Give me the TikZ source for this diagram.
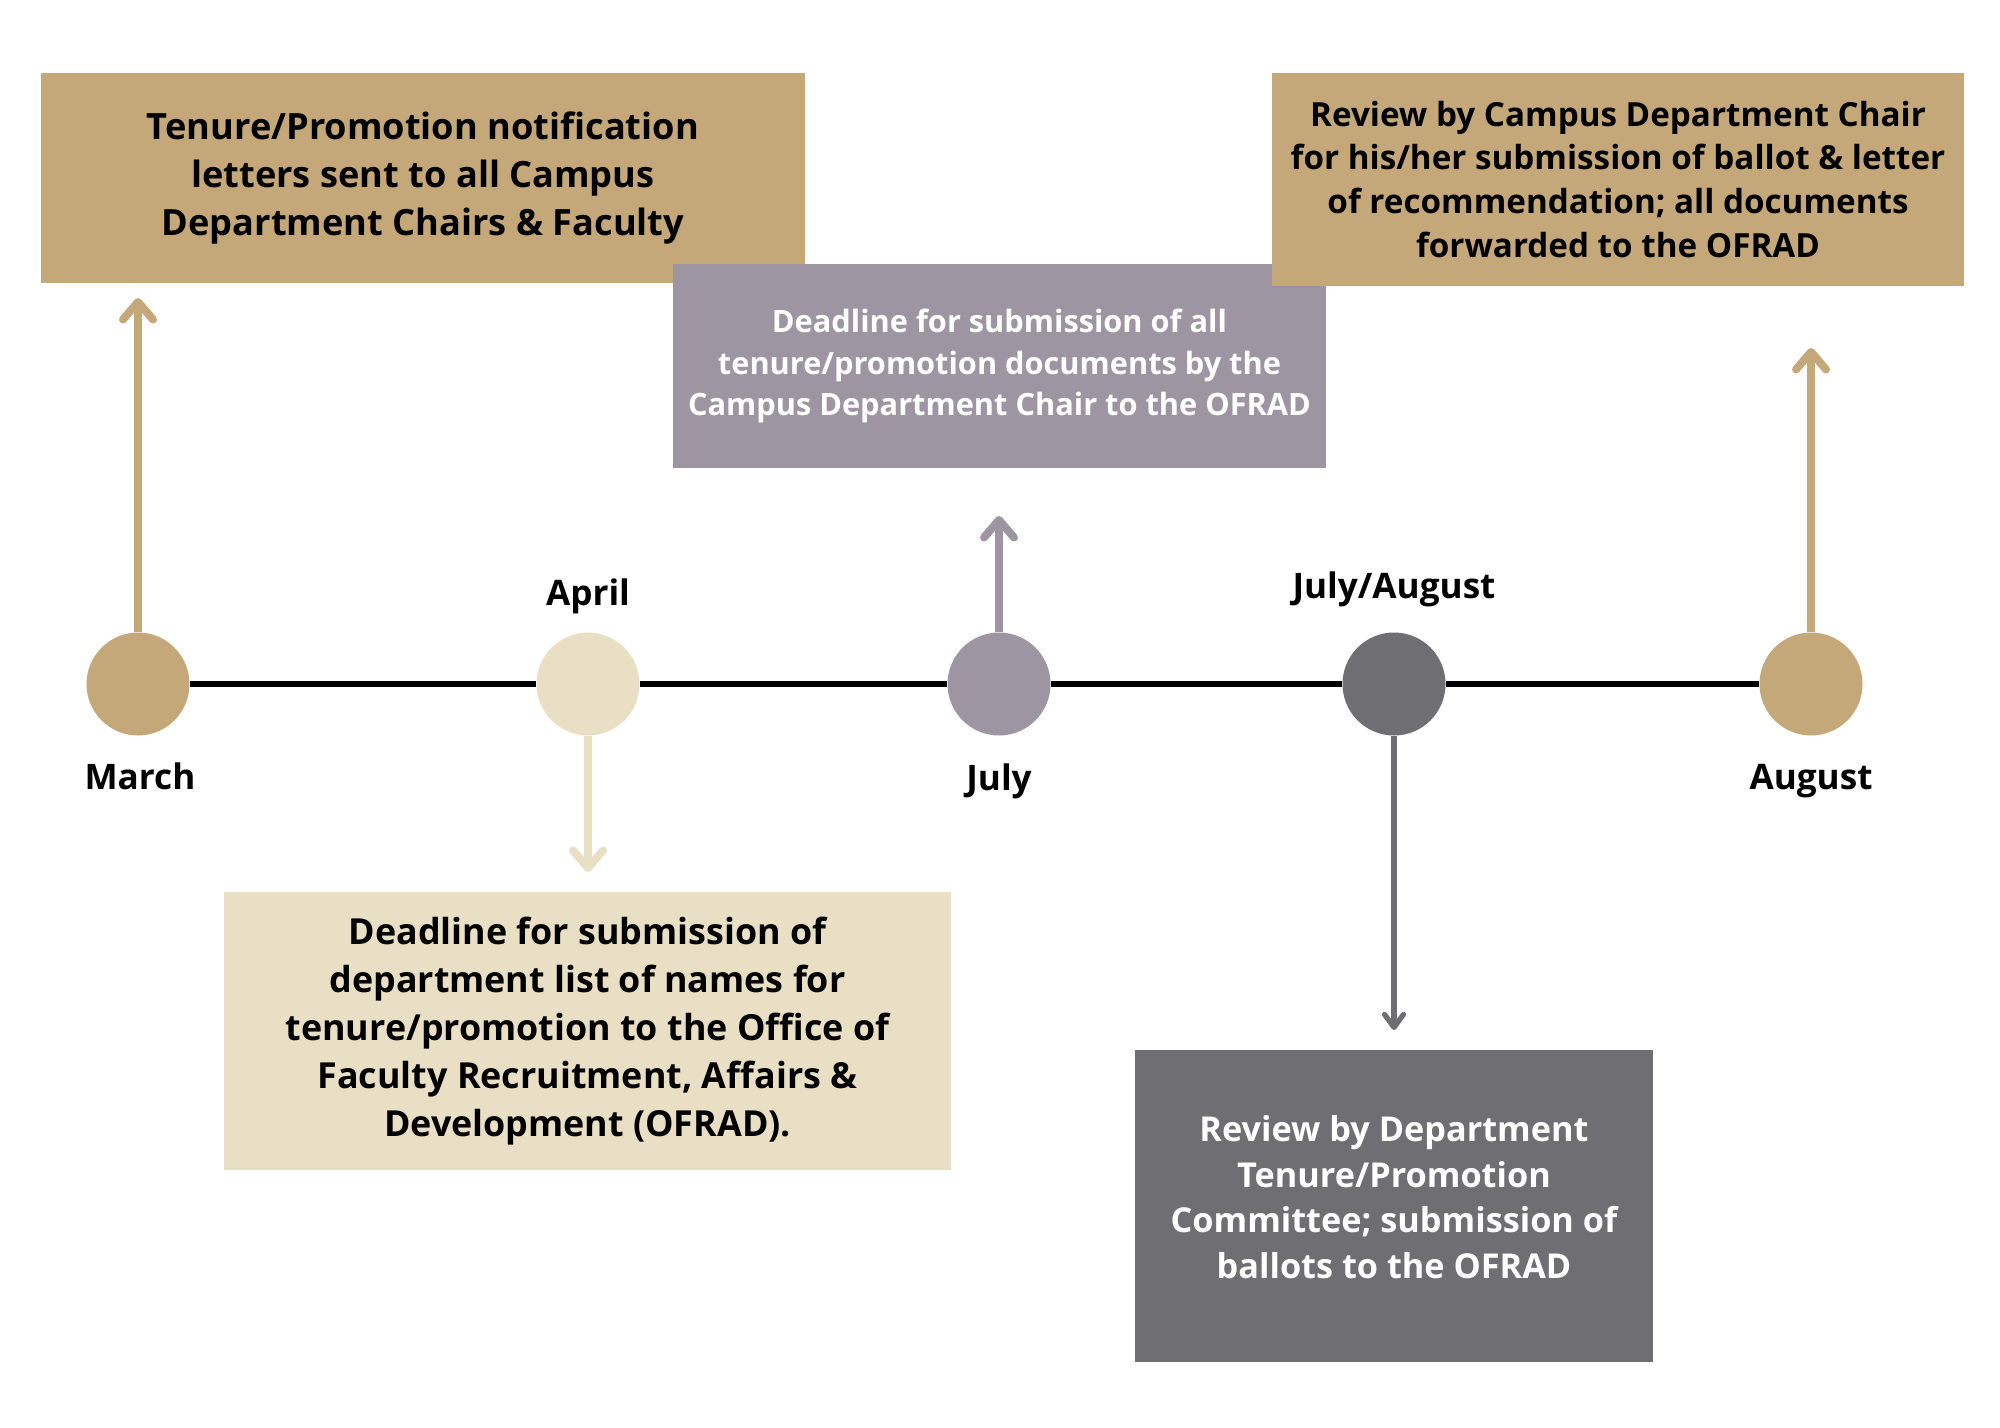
\documentclass[tikz,border=0pt]{standalone}
\usepackage{fontspec}
\setmainfont{Open Sans}
\usepackage{tikz}
\usepackage{xcolor}
\usetikzlibrary{arrows.meta,positioning}

\definecolor{goldtan}{HTML}{C4A87A}
\definecolor{cream}{HTML}{E9DFC5}
\definecolor{mauve}{HTML}{9D96A2}
\definecolor{slate}{HTML}{6E6E73}

\begin{document}
\begin{tikzpicture}[x=0.2mm,y=-0.2mm,
   dot/.style={circle,minimum size=20.6mm,inner sep=0pt},
   card/.style={rectangle,align=center,inner sep=0pt},
   month/.style={font=\bfseries\fontsize{20}{24}\selectfont},
   pointer/.style={line width=1.6mm,-{Straight Barb[length=3.5mm,width=6mm,round]}},
   thinpointer/.style={line width=1.05mm,-{Straight Barb[length=2.6mm,width=3.8mm,round]}},
   timeline/.style={line width=1.2mm,black}]
   \useasboundingbox (0,0) rectangle (2000,1428);

   % boxes
   \node[card,fill=goldtan,minimum width=152.8mm,minimum height=42mm,
         font=\bfseries\fontsize{20.6}{27.3}\selectfont] (notify) at (423,178)
         {Tenure/Promotion notification\\letters sent to all Campus\\Department Chairs \& Faculty};
   \node[card,fill=mauve,text=white,minimum width=130.6mm,minimum height=40.8mm,
         font=\bfseries\fontsize{17.5}{23.6}\selectfont] (deadline) at (999.5,366)
         {Deadline for submission of all\\tenure/promotion documents by the\\Campus Department Chair to the OFRAD};
   \node[card,fill=goldtan,minimum width=138.4mm,minimum height=42.6mm,
         font=\bfseries\fontsize{18.9}{25}\selectfont] (chairrev) at (1618,179.5)
         {Review by Campus Department Chair\\for his/her submission of ballot \& letter\\of recommendation; all documents\\forwarded to the OFRAD};
   \node[card,fill=cream,minimum width=145.4mm,minimum height=55.6mm,
         font=\bfseries\fontsize{20.4}{27.3}\selectfont] (namelist) at (587.5,1031)
         {Deadline for submission of\\department list of names for\\tenure/promotion to the Office of\\Faculty Recruitment, Affairs \&\\Development (OFRAD).};
   \node[card,fill=slate,text=white,minimum width=103.6mm,minimum height=62.4mm,
         font=\bfseries\fontsize{19.5}{25.9}\selectfont] (committee) at (1394,1206)
         {Review by Department\\Tenure/Promotion\\Committee; submission of\\ballots to the OFRAD\\[-15.7pt]};

   % timeline
   \node[dot,fill=goldtan] (march)  at (138,684)  {};
   \node[dot,fill=cream]   (april)  at (588,684)  {};
   \node[dot,fill=mauve]   (july)   at (999,684)  {};
   \node[dot,fill=slate]   (julaug) at (1394,684) {};
   \node[dot,fill=goldtan] (august) at (1811,684) {};
   \path[timeline]
    (march) edge (april)
    (april) edge (july)
    (july) edge (julaug)
    (julaug) edge (august);

   \node[month] (l_march)  at (140,776)  {March};
   \node[month] (l_april)  at (588,596)  {April};
   \node[month] (l_july)   at (999,781)  {July};
   \node[month] (l_julaug) at (1394,589) {July/August};
   \node[month] (l_august) at (1811,781) {August};

   % arrows
   \coordinate (t_march)  at (138,298);
   \coordinate (t_april)  at (588,872);
   \coordinate (t_july)   at (999,516);
   \coordinate (t_julaug) at (1394,1030);
   \coordinate (t_august) at (1811,348);
   \draw[pointer,goldtan] (march.north) -- (t_march);
   \draw[pointer,cream] (april.south) -- (t_april);
   \draw[pointer,mauve] (july.north) -- (t_july);
   \draw[thinpointer,slate] (julaug.south) -- (t_julaug);
   \draw[pointer,goldtan] (august.north) -- (t_august);
\end{tikzpicture}
\end{document}
